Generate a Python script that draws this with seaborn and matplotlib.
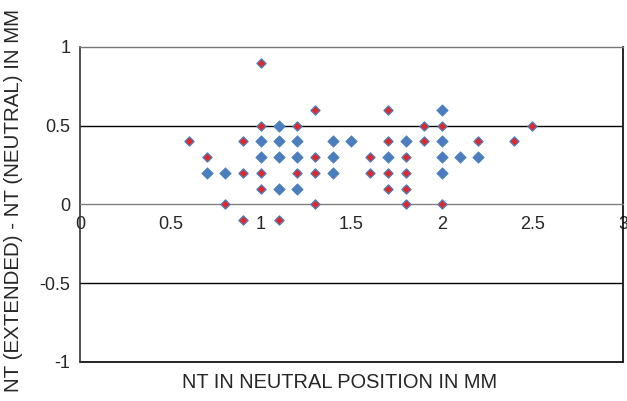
import matplotlib
matplotlib.use("Agg")
import matplotlib.pyplot as plt
import seaborn as sns

# extended-minus-neutral differences
blue_x = [1.1, 1.0, 1.1, 1.2, 1.4, 1.5, 1.0, 1.1, 1.2, 1.4, 0.7, 0.8, 1.4, 1.1, 1.2,
          2.0, 1.8, 2.0, 1.7, 2.0, 2.1, 2.2, 2.0]
blue_y = [0.5, 0.4, 0.4, 0.4, 0.4, 0.4, 0.3, 0.3, 0.3, 0.3, 0.2, 0.2, 0.2, 0.1, 0.1,
          0.6, 0.4, 0.4, 0.3, 0.3, 0.3, 0.3, 0.2]

red_x = [1.0, 1.3, 1.0, 1.2, 0.6, 0.9, 0.7, 1.3, 0.9, 1.0, 1.2, 1.3, 1.0, 0.8, 1.3, 0.9, 1.1,
         1.7, 1.9, 2.0, 2.5, 1.7, 1.9, 2.2, 2.4, 1.6, 1.8, 1.6, 1.7, 1.8, 1.7, 1.8, 1.8, 2.0]
red_y = [0.9, 0.6, 0.5, 0.5, 0.4, 0.4, 0.3, 0.3, 0.2, 0.2, 0.2, 0.2, 0.1, 0.0, 0.0, -0.1, -0.1,
         0.6, 0.5, 0.5, 0.5, 0.4, 0.4, 0.4, 0.4, 0.3, 0.3, 0.2, 0.2, 0.2, 0.1, 0.1, 0.0, 0.0]

x_ticks = [0, 0.5, 1, 1.5, 2, 2.5, 3]
x_tick_labels = ["0", "0.5", "1", "1.5", "2", "2.5", "3"]
y_ticks = [-1, -0.5, 0, 0.5, 1]
y_tick_labels = ["-1", "-0.5", "0", "0.5", "1"]

sns.set_style("white")
plt.rcParams['font.family'] = ['Liberation Sans', 'DejaVu Sans']

fig = plt.figure(figsize=(6.27, 4.01), dpi=100)
ax = fig.add_axes([0.1276, 0.0973, 0.8660, 0.7855])

blue = "#4a7ebf"
red = "#e0282a"

sns.scatterplot(x=blue_x, y=blue_y, marker="D", s=34, color=blue,
                edgecolor=blue, linewidth=0.5, ax=ax, zorder=3, clip_on=False)
sns.scatterplot(x=red_x, y=red_y, marker="D", s=22, color=red,
                edgecolor=blue, linewidth=0.9, ax=ax, zorder=4, clip_on=False)

ax.set_xlim(0, 3)
ax.set_ylim(-1, 1)

# gridlines and frame
for yv in [0.5, -0.5]:
    ax.axhline(yv, color="black", linewidth=1.0, zorder=1)
ax.axhline(-1, color="black", linewidth=1.2, zorder=2, clip_on=False)

ax.spines['bottom'].set_position(('data', 0))
ax.spines['bottom'].set_color("#808080")
ax.spines['bottom'].set_linewidth(1.0)
ax.spines['top'].set_color("#777777")
ax.spines['top'].set_linewidth(1.0)
ax.spines['right'].set_color("black")
ax.spines['right'].set_linewidth(1.2)
ax.spines['left'].set_color("#333333")
ax.spines['left'].set_linewidth(1.2)

ax.set_xticks(x_ticks)
ax.set_xticklabels(x_tick_labels)
ax.set_yticks(y_ticks)
ax.set_yticklabels(y_tick_labels)
ax.tick_params(axis='x', direction='out', length=4, width=0.8, color="#555555",
               labelsize=13, pad=4)
ax.tick_params(axis='y', direction='out', length=5, width=0.8, color="#333333",
               labelsize=13, pad=2)

ax.set_xlabel("")
ax.set_ylabel("")
fig.text(0.542, 0.045, "NT IN NEUTRAL POSITION IN MM", ha="center", va="center",
         fontsize=14.4)
fig.text(0.022, 0.5, "NT (EXTENDED) - NT (NEUTRAL) IN MM", ha="center", va="center",
         rotation=90, fontsize=14.8)

fig.savefig("out.png", dpi=100)
plt.close(fig)
